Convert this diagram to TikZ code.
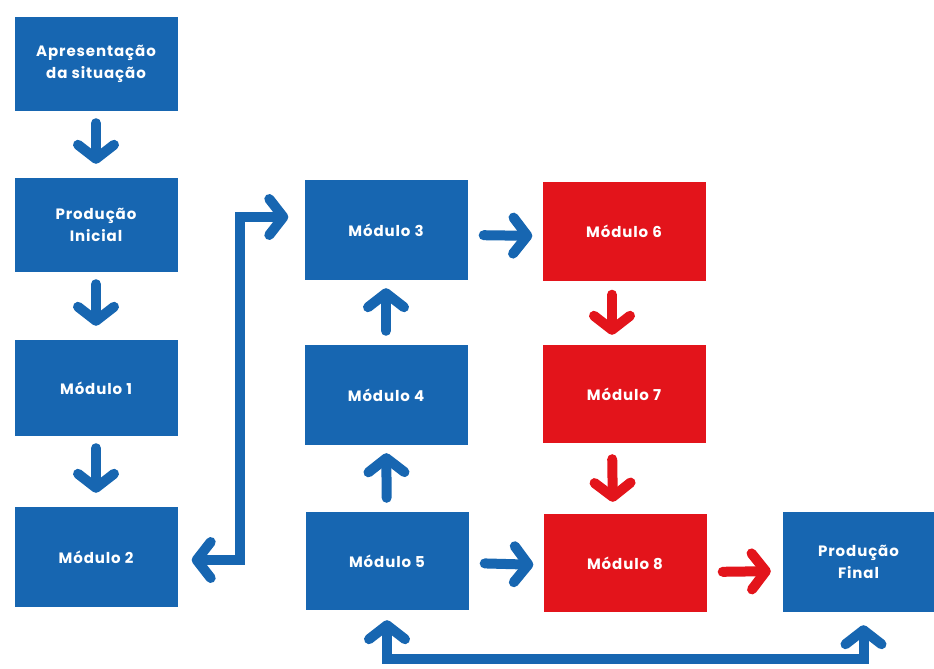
\documentclass[tikz,border=0pt]{standalone}
\usepackage{fontspec}
\setmainfont{Poppins}
\newfontfamily\boxfont[LetterSpace=6]{Poppins}
\usetikzlibrary{arrows.meta}
\definecolor{bblue}{HTML}{1766B1}
\definecolor{rred}{HTML}{E3141B}
\tikzset{
  box/.style={fill=bblue, text=white, minimum width=163pt, minimum height=98pt, inner sep=0pt,
    align=center, font=\boxfont\bfseries\fontsize{15}{22}\selectfont},
  redbox/.style={box, fill=rred},
  tip/.style={Straight Barb[round,length=14pt,width=36pt]},
  arr/.style={line width=10pt, line cap=round, bblue, -{Straight Barb[round,length=14pt,width=36pt]}},
  rarr/.style={arr, rred},
  darr/.style={line width=10pt, bblue, {Straight Barb[round,length=14pt,width=36pt]}-{Straight Barb[round,length=14pt,width=36pt]}},
}
\begin{document}
\begin{tikzpicture}[x=1pt,y=-1pt]
\useasboundingbox[fill=white] (0,0) rectangle (934,669);
\node[box, minimum height=94pt] (A) at (96,64) {Apresentação\\da situação};
\node[box, minimum height=94pt] (B) at (96,225) {Produção\\Inicial};
\node[box, minimum height=96pt] (M1) at (96,388) {Módulo 1};
\node[box, minimum height=100pt] (M2) at (96,557) {Módulo 2};
\node[box, minimum height=100pt] (M3) at (386,230) {Módulo 3};
\node[box, minimum height=100pt] (M4) at (386,395) {Módulo 4};
\node[box, minimum height=98pt] (M5) at (387,561) {Módulo 5};
\node[redbox, minimum height=99pt] (M6) at (624,231) {Módulo 6};
\node[redbox, minimum height=98pt] (M7) at (624,394) {Módulo 7};
\node[redbox, minimum height=98pt] (M8) at (625,563) {Módulo 8};
\node[box, minimum width=151pt, minimum height=100pt] (PF) at (858.5,562) {Produção\\Final};
% left column
\draw[arr, shorten <=12pt, shorten >=14pt] (A) -- (B);
\draw[arr, shorten <=12pt, shorten >=14pt] (B) -- (M1);
\draw[arr, shorten <=12pt, shorten >=14pt] (M1) -- (M2);
% elbow
\coordinate (E) at (240,400);
\draw[darr] ([xshift=14pt,yshift=-3pt]M2.east) -| (E) |- ([xshift=-16pt,yshift=13pt]M3.west);
% middle
\draw[arr, shorten <=14pt, shorten >=8pt] (M4) -- (M3);
\draw[arr, shorten <=14pt, shorten >=8pt] (M5) -- (M4);
\draw[arr, shorten <=16pt, shorten >=10pt] ([yshift=-5pt]M3.east) -- ([yshift=-5pt]M6.west);
\draw[arr, shorten <=16pt, shorten >=10pt] ([yshift=-2pt]M5.east) -- ([yshift=-2pt]M8.west);
\draw[rarr, shorten <=14pt, shorten >=10pt] ([xshift=-12pt]M6.south) -- ([xshift=-12pt]M7.north);
\draw[rarr, shorten <=16pt, shorten >=12pt] ([xshift=-12pt]M7.south) -- ([xshift=-12pt]M8.north);
\draw[rarr, shorten <=16pt, shorten >=12pt] ([yshift=-9pt]M8.east) -- ([yshift=-9pt]PF.west);
% bottom loop
\coordinate (L) at (600,659);
\draw[darr] ([yshift=-10pt]M5.south) |- (L) -| ([xshift=5pt,yshift=-13pt]PF.south);
\end{tikzpicture}
\end{document}
